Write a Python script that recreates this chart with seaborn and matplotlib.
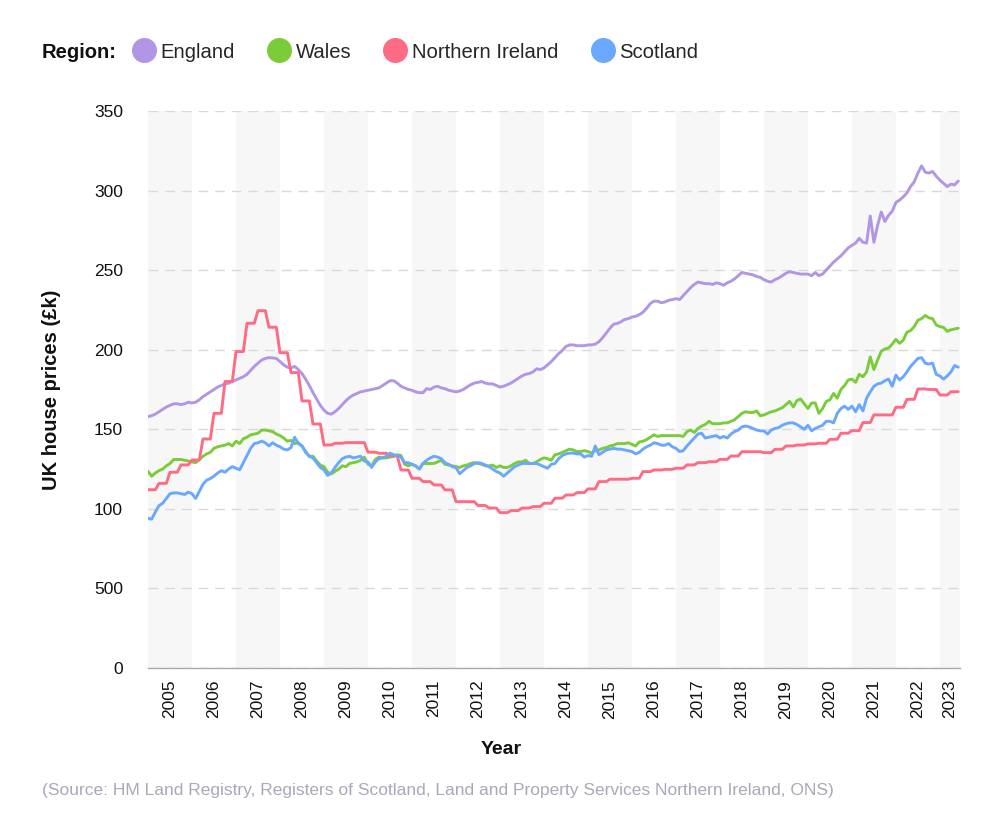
import numpy as np
import pandas as pd
import seaborn as sns
from matplotlib import pyplot as plt
from matplotlib.lines import Line2D

# monthly series, Jan 2005 .. Jun 2023 (thousand pounds)
regions = ["England", "Wales", "Northern Ireland", "Scotland"]
colors = ["#b296e6", "#7acc38", "#ff6b84", "#6aa8ff"]
years = list(range(2005, 2024))
ytick_values = [0, 50, 100, 150, 200, 250, 300, 350]
ytick_labels = ["0", "500", "100", "150", "200", "250", "300", "350"]
source = ("(Source: HM Land Registry, Registers of Scotland, Land and Property "
          "Services Northern Ireland, ONS)")

england = [
    158, 158.5, 159.5, 161, 162.5, 164, 165, 166, 166, 165.5, 166, 167,
    166.5, 167, 168.5, 170.5, 172, 173.5, 175, 176.5, 177.5, 178.5, 179, 180,
    181, 182, 183, 184.5, 187, 189.5, 191.5, 193.5, 194.5, 195, 194.8, 194.5,
    192.5, 190.5, 189, 188.5, 189.5, 187.5, 185, 181.5, 177.5, 173, 169, 165,
    162, 160, 159.5, 161, 163, 165.5, 168, 170, 171.5, 172.5, 173.5, 174,
    174.5, 175, 175.5, 176, 177.5, 179, 180.5, 180.5, 179, 177, 176, 175,
    174.5, 173.5, 173, 173, 175.5, 175, 176.5, 177, 176, 175.5, 174.5, 174,
    173.5, 174, 175, 176.5, 178, 179, 179.5, 180, 179, 178.5, 178.5, 177.5,
    176.5, 177, 178, 179, 180.5, 182, 183.5, 184.5, 185, 186, 188, 187.5,
    188.5, 190.5, 192.5, 195, 197.5, 199.5, 202, 203, 203, 202.5, 202.5, 202.5,
    203, 203, 203.5, 205, 207.5, 210.5, 213.5, 216, 216.5, 217.5, 219, 219.5,
    220.5, 221, 222, 223.5, 226, 229, 230.5, 230.5, 229.5, 230, 231, 231.5,
    232, 231.5, 234, 236.5, 239, 241, 242.5, 242, 241.5, 241.5, 241, 242,
    241.5, 240.5, 242, 243, 244.5, 246.5, 248.5, 248, 247.5, 247, 246, 245.5,
    244, 243, 242.5, 244, 245, 246.5, 248, 249, 248.5, 248, 247.5, 247.5,
    247.5, 246.5, 248.5, 246.5, 247.5, 250, 252.5, 255, 257, 259, 261.5, 264,
    265.5, 267, 270, 267.5, 267, 284, 267.5, 278, 286.5, 280.5, 284.5, 287,
    292.5, 294, 296, 298.5, 302.5, 305.5, 311, 315.5, 311.5, 311, 312, 309,
    306.5, 304.5, 302.5, 304, 303.5, 306,
]

wales = [
    123.5, 120.5, 122.5, 124, 125, 127, 128.5, 131, 131, 131, 130.5, 130,
    129.5, 129, 131, 133, 134.5, 135.5, 138, 139, 139.5, 140, 141, 139.5,
    142.5, 141, 144, 145, 146.5, 147, 147.5, 149.5, 149.5, 149, 148.5, 147,
    146, 144.5, 142.5, 143, 141, 141.5, 139.5, 136, 133, 133, 130, 127.5,
    126.5, 123, 122, 123.5, 125, 127, 126.5, 128.5, 129, 129.5, 130.5, 132.5,
    128, 127, 131, 132.5, 132, 132, 132.5, 133, 134, 133.5, 128, 127,
    128, 127, 125, 128.5, 128.5, 128.5, 128.5, 129.5, 130.5, 128, 127.5, 127,
    126.5, 126, 127, 127.5, 128.5, 129, 128.5, 128, 127, 127, 127.5, 126,
    127, 126, 126, 127, 128.5, 129.5, 129.5, 130.5, 128.5, 128.5, 129.5, 131,
    132, 131.5, 130.5, 134, 134.5, 135.5, 136.5, 137.5, 137, 136, 136, 136.5,
    136, 135, 136.5, 137, 138, 138.5, 139.5, 140, 141, 141, 141, 141.5,
    140.5, 139.5, 142, 142.5, 143.5, 145, 146.5, 145.5, 146, 146, 146, 146,
    146, 146, 145.5, 148.5, 149.5, 148, 150.5, 152, 153, 155, 153.5, 153.5,
    153.5, 154, 154, 155, 156, 158, 160, 161, 160.5, 160.5, 161.5, 158.5,
    159, 160, 161, 161.5, 162.5, 163.5, 165.5, 167.5, 164, 168, 169, 166,
    163, 166.5, 166.5, 160, 163, 167.5, 168.5, 172.5, 169.5, 175, 177.5, 181,
    181.5, 179.5, 184.5, 183, 186, 195.5, 187.5, 193.5, 199, 200.5, 201, 203.5,
    206.5, 204, 206, 211, 212, 214.5, 218.5, 219.5, 221.5, 220, 219.5, 215.5,
    214.5, 214, 211.5, 212.5, 213, 213.5,
]

scotland = [
    94, 93.5, 98, 102, 103.5, 106.5, 109.5, 110, 110, 109.5, 109, 110.5,
    109.5, 106.5, 111, 115.5, 118, 119, 120.5, 122.5, 124, 123, 125, 126.5,
    125.5, 124.5, 129, 133.5, 138, 141, 141.5, 142.5, 141.5, 139.5, 141.5, 140,
    139, 137.5, 137, 138.5, 145, 141, 139.5, 135.5, 133, 132, 129, 126,
    124.5, 121, 122.5, 126, 129, 131.5, 132.5, 133, 132, 132.5, 133, 130,
    129.5, 126, 129.5, 131.5, 132, 133, 135, 134, 133.5, 132.5, 129, 129,
    128, 127, 125, 128.5, 130.5, 132, 133, 132.5, 131.5, 129, 128, 126.5,
    126, 122, 124, 126, 127, 128.5, 129, 128.5, 127.5, 126.5, 125, 123.5,
    122.5, 120.5, 122.5, 124.5, 126.5, 127.5, 128.5, 128.5, 128.5, 128.5, 128.5, 127.5,
    126.5, 125.5, 128, 128.5, 131.5, 133.5, 134.5, 135, 135, 134.5, 134.5, 132.5,
    133.5, 133, 139.5, 134, 135.5, 137, 137.5, 138, 137.5, 137.5, 137, 136.5,
    136, 134.5, 135.5, 137.5, 139, 140, 141.5, 141, 140, 140, 141, 139,
    138, 136, 136.5, 139.5, 142, 144.5, 147, 147.5, 144.5, 145, 145.5, 146,
    144.5, 145.5, 144.5, 147, 148.5, 149.5, 151.5, 152, 151.5, 150.5, 149.5, 149,
    149, 147, 149.5, 150.5, 151, 152.5, 153.5, 154, 154, 153, 151.5, 150,
    152.5, 149, 150.5, 151.5, 152.5, 155, 155, 154, 160, 163, 164.5, 162.5,
    164.5, 161, 165.5, 161.5, 169.5, 173.5, 177, 178.5, 179, 180.5, 181.5, 177,
    184, 181, 183, 186, 189.5, 192, 194.5, 195, 191.5, 191, 191.5, 184.5,
    183.5, 181.5, 183.5, 186, 190, 189,
]

# Northern Ireland is published quarterly (Q1 2005 .. Q2 2023)
ni_quarterly = [
    112, 116, 123, 127.6,
    130.7, 143.9, 160, 180,
    198.8, 216.6, 224.5, 214.1,
    198.1, 185.6, 167.8, 153.3,
    140.1, 141.2, 141.6, 141.6,
    135.6, 134.9, 133.2, 124.4,
    119.2, 117.1, 115, 111.9,
    104.5, 104.5, 102.1, 100.5,
    97.6, 98.9, 100.5, 101.4,
    103.5, 106.7, 108.7, 110.2,
    112.5, 117.1, 118.6, 118.6,
    119.2, 123.4, 124.4, 124.8,
    125.5, 127.6, 129, 129.6,
    131.1, 133.2, 135.9, 135.9,
    135.3, 137.4, 139.5, 140.1,
    140.8, 141.2, 143.7, 147.5,
    149.1, 154.2, 159, 159,
    163.8, 168.8, 175.3, 175,
    171.5, 173.6,
]

n = len(england)
t = years[0] + np.arange(n) / 12
df = pd.DataFrame({
    "t": t,
    "England": england,
    "Wales": wales,
    "Northern Ireland": np.repeat(ni_quarterly, 3)[:n],
    "Scotland": scotland,
})
long = df.melt(id_vars="t", var_name="Region", value_name="price")

sns.set_style("white")
plt.rcParams["font.family"] = ["Liberation Sans", "DejaVu Sans"]

fig = plt.figure(figsize=(10, 8.4), dpi=100)
ax = fig.add_axes([0.148, 0.2048, 0.812, 0.6631])

x_end = t[-1] + 0.04
for i, y in enumerate(years):
    if i % 2 == 0:
        ax.axvspan(y, min(y + 1, x_end), color="#f7f7f7", lw=0, zorder=0)

sns.lineplot(data=long, x="t", y="price", hue="Region", hue_order=regions,
             palette=dict(zip(regions, colors)), linewidth=2.1,
             estimator=None, legend=False, ax=ax)

ax.set_xlim(years[0], x_end)
ax.set_ylim(0, 350)
ax.set_axisbelow(True)
ax.yaxis.grid(True, linestyle=(0, (7, 5)), color="#d9d9d9", lw=1)
ax.xaxis.grid(False)

ax.set_yticks(ytick_values)
ax.set_yticklabels(ytick_labels)
ax.tick_params(axis="y", length=11, color="#d9d9d9", pad=7, labelsize=12.5,
               labelcolor="#111111")

mids = [y + 0.5 for y in years[:-1]] + [(years[-1] + x_end) / 2]
ax.set_xticks(years)
ax.set_xticklabels([])
ax.set_xticks(mids, minor=True)
ax.set_xticklabels([str(y) for y in years], minor=True, rotation=90)
ax.tick_params(axis="x", which="major", length=6, width=1, color="#999999")
ax.tick_params(axis="x", which="minor", length=0, pad=8.5, labelsize=12.5,
               labelcolor="#111111")

for s in ["left", "top", "right"]:
    ax.spines[s].set_visible(False)
ax.spines["bottom"].set_color("#aaaaaa")
ax.spines["bottom"].set_linewidth(1)
ax.set_xlabel("")
ax.set_ylabel("")

fig.text(0.501, 1 - 750 / 840, "Year", ha="center", va="center",
         fontsize=14, fontweight="bold", color="#111111")
fig.text(0.052, 1 - 390 / 840, "UK house prices (£k)", ha="center", va="center",
         rotation=90, fontsize=14.5, fontweight="bold", color="#111111")

fig.text(0.042, 1 - 52 / 840, "Region:", ha="left", va="center",
         fontsize=14.5, fontweight="bold", color="#111111")
handles = [Line2D([], [], marker="o", ls="", markersize=18, color=c,
                  markeredgewidth=0) for c in colors]
fig.legend(handles, regions, loc="center left",
           bbox_to_anchor=(0.131, 1 - 52 / 840), ncol=4, frameon=False,
           fontsize=14.6, handlelength=1.25, handletextpad=0.2,
           columnspacing=1.55, borderpad=0, borderaxespad=0)

fig.text(0.042, 1 - 790 / 840, source, ha="left", va="center",
         fontsize=12.5, color="#a9a9b9")

fig.savefig("out.png", dpi=100)
